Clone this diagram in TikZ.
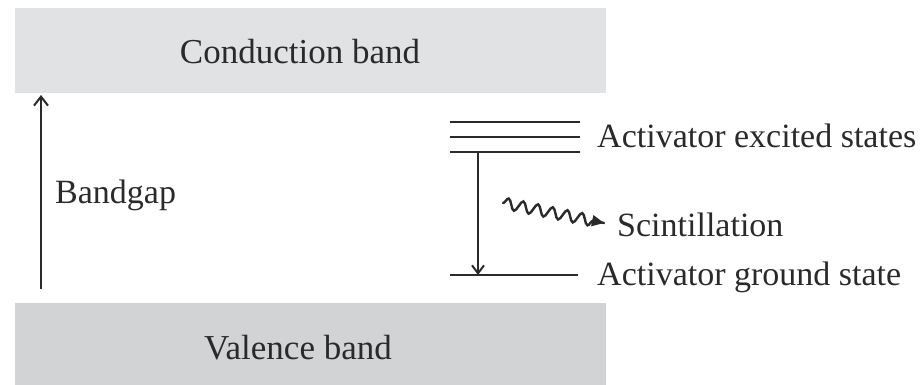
\documentclass[tikz,border=0pt]{standalone}
\usepackage{fontspec}
\setmainfont{Liberation Serif}
\usetikzlibrary{arrows.meta,decorations.pathmorphing,calc}
\definecolor{cbgray}{HTML}{E1E2E4}
\definecolor{vbgray}{HTML}{D2D3D5}
\definecolor{ink}{HTML}{2A2A2A}
\tikzset{
  band/.style={draw=none, minimum width=591pt, minimum height=85pt, inner sep=0pt},
  lbl/.style={anchor=base west, inner sep=0pt, font=\fontsize{34}{40}\selectfont, text=ink},
  level/.style={draw=ink, line width=2.4pt},
  trans/.style={draw=ink, line width=2pt}
}
\begin{document}
\begin{tikzpicture}[x=1pt,y=-1pt]
\useasboundingbox (0,0) rectangle (921,385);
% bands
\node[band, fill=cbgray] (cb) at (310.5,51) {};
\node[lbl, anchor=base, font=\fontsize{35}{40}\selectfont] (cbt) at (300,64) {Conduction band};
\node[band, fill=vbgray, minimum height=83pt] (vb) at (310.5,344.5) {};
\node[lbl, anchor=base, font=\fontsize{35}{40}\selectfont] (vbt) at (298,359) {Valence band};
% bandgap arrow
\coordinate (bg0) at (41,289);
\coordinate (bg1) at (41,95);
\draw[trans, -{Straight Barb[length=9pt,width=14pt,line width=2pt]}] (bg0) -- (bg1);
\node[lbl] (bgt) at (55,203) {Bandgap};
% excited states
\coordinate (e1a) at (450,122); \coordinate (e1b) at (580,122);
\coordinate (e2a) at (450,137); \coordinate (e2b) at (580,137);
\coordinate (e3a) at (450,152); \coordinate (e3b) at (580,152);
\draw[level] (e1a) -- (e1b);
\draw[level] (e2a) -- (e2b);
\draw[level] (e3a) -- (e3b);
\node[lbl] (ext) at (597,147) {Activator excited states};
% ground state
\coordinate (ga) at (450,275); \coordinate (gb) at (578,275);
\draw[level] (ga) -- (gb);
\node[lbl] (gst) at (597,285) {Activator ground state};
% transition
\coordinate (t0) at (478,152);
\coordinate (t1) at (478,275);
\draw[trans, -{Straight Barb[length=8pt,width=12pt,line width=2pt]}] (t0) -- (t1);
% scintillation
\coordinate (w0) at (503,203);
\coordinate (w1) at (604,223);
\coordinate (wm) at ($(w1)!12pt!(w0)$);
\draw[draw=ink, line width=2.4pt, line cap=round, decorate, decoration={snake, amplitude=5.5pt, segment length=15pt, post length=10pt}] (w0) -- (w1);
\draw[draw=ink, line width=2.2pt, -{Triangle[length=12pt,width=11pt]}] (wm) -- (w1);
\node[lbl] (sct) at (617,236) {Scintillation};
\end{tikzpicture}
\end{document}
